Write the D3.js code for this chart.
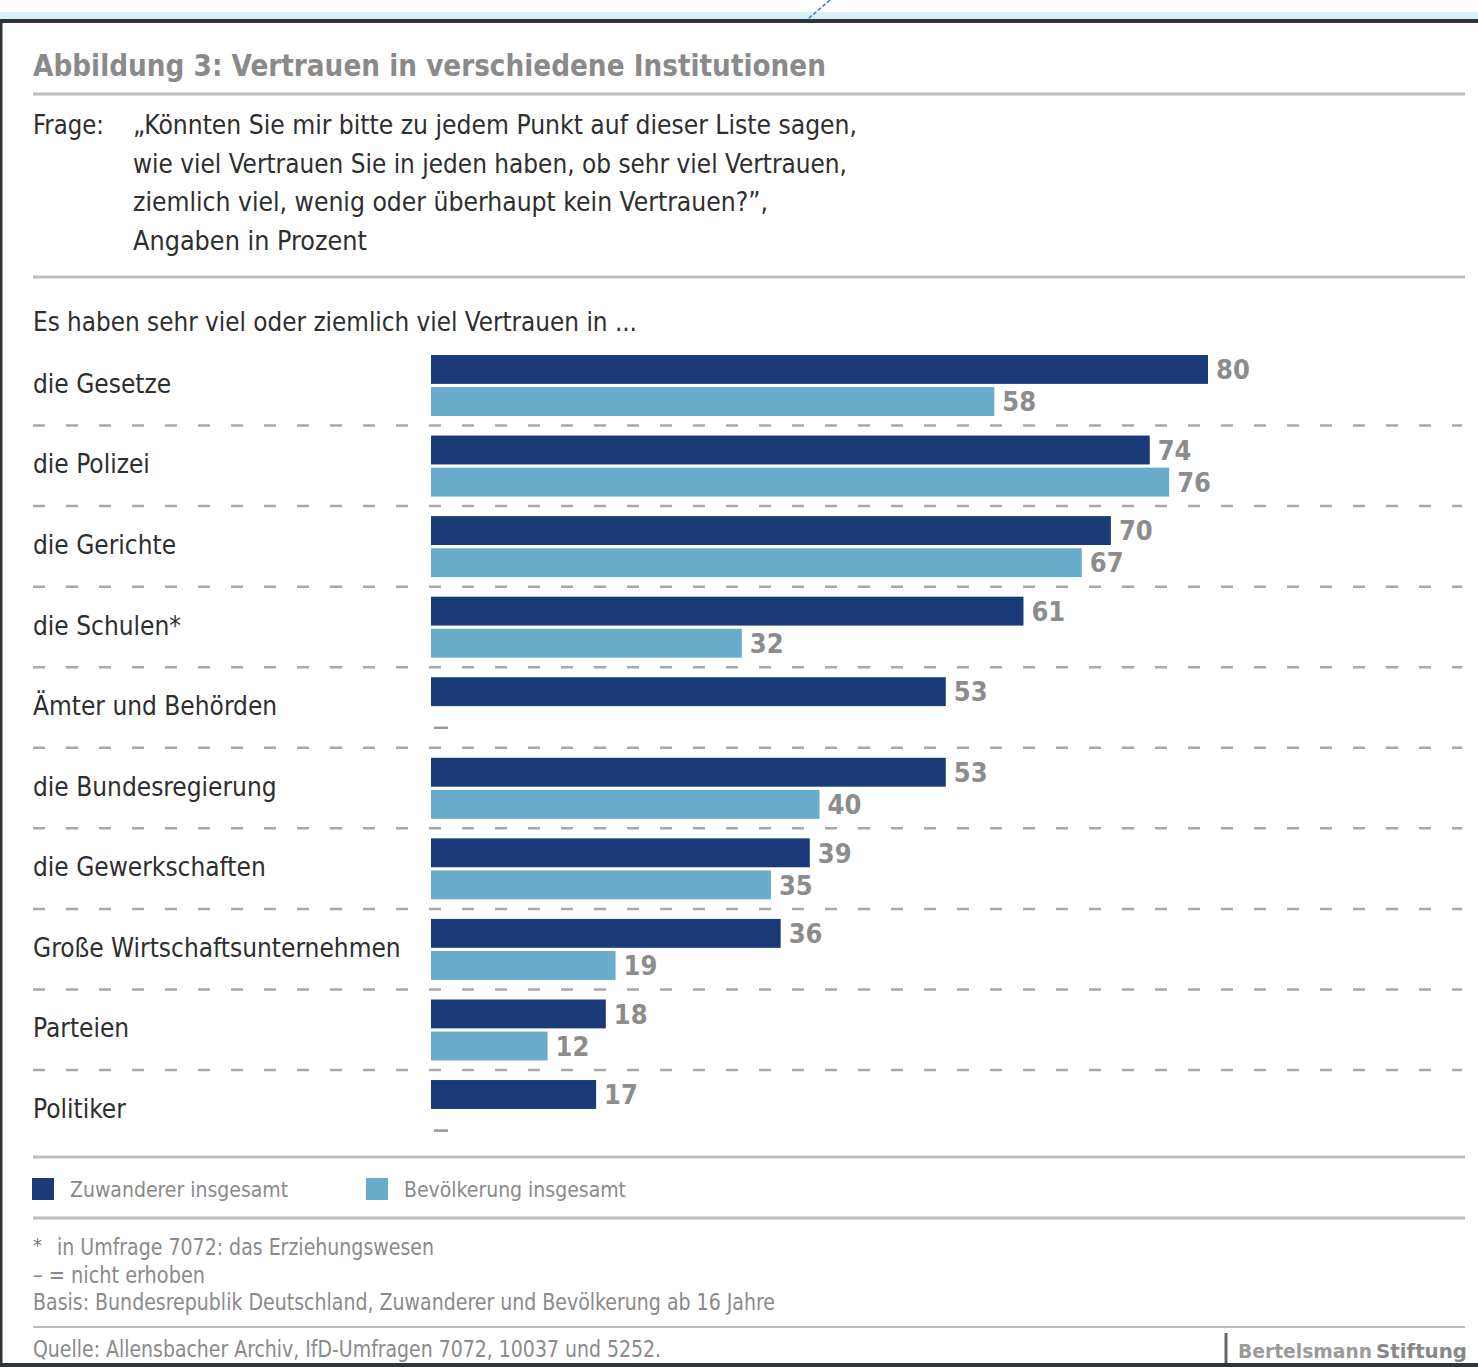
<!DOCTYPE html>
<html>
<head>
<meta charset="utf-8">
<script src="https://cdn.jsdelivr.net/npm/d3@7"></script>
<style>
  body { margin: 0; background: #fff; }
  svg { display: block; }
</style>
</head>
<body>
<div id="chart"></div>
<script>
// data
const categories = ["die Gesetze", "die Polizei", "die Gerichte", "die Schulen*", "Ämter und Behörden",
    "die Bundesregierung", "die Gewerkschaften", "Große Wirtschaftsunternehmen", "Parteien", "Politiker"];
const zuwanderer = [80, 74, 70, 61, 53, 53, 39, 36, 18, 17];
const bevoelkerung = [58, 76, 67, 32, null, 40, 35, 19, 12, null];
const seriesNames = ["Zuwanderer insgesamt", "Bevölkerung insgesamt"];
const questionLines = [
    "„Könnten Sie mir bitte zu jedem Punkt auf dieser Liste sagen,",
    "wie viel Vertrauen Sie in jeden haben, ob sehr viel Vertrauen,",
    "ziemlich viel, wenig oder überhaupt kein Vertrauen?”,",
    "Angaben in Prozent"
];
const footnotes = [
    "in Umfrage 7072: das Erziehungswesen",
    "– = nicht erhoben",
    "Basis: Bundesrepublik Deutschland, Zuwanderer und Bevölkerung ab 16 Jahre"
];

const W = 1478, H = 1367;
const FONT = "'Liberation Sans Narrow', 'DejaVu Sans Condensed', 'Arial Narrow', sans-serif";
const colors = d3.scaleOrdinal().domain(seriesNames).range(["#1b3a78", "#69abcb"]);

let svg = d3.select("#chart").append("svg")
    .attr("width", W)
    .attr("height", H)
    .style("font-family", FONT);

function fit(sel, w) {
    sel.attr("textLength", w).attr("lengthAdjust", "spacingAndGlyphs");
    return sel;
}

// frame bits
svg.append("rect").attr("x", 0).attr("y", 12).attr("width", W).attr("height", 7).attr("fill", "#dcf0f6");
svg.append("line").attr("x1", 0).attr("x2", W).attr("y1", 21).attr("y2", 21)
    .attr("stroke", "#2f3436").attr("stroke-width", 4);
svg.append("line").attr("x1", 1).attr("x2", 1).attr("y1", 21).attr("y2", H)
    .attr("stroke", "#2f3436").attr("stroke-width", 3);
svg.append("line").attr("x1", 0).attr("x2", W).attr("y1", 1365).attr("y2", 1365)
    .attr("stroke", "#2f3436").attr("stroke-width", 4);
svg.append("line").attr("x1", 830).attr("y1", 0).attr("x2", 808).attr("y2", 19)
    .attr("stroke", "#3f72c4").attr("stroke-width", 1.5).attr("stroke-dasharray", "4,2");

// title + question
fit(svg.append("text").attr("x", 33).attr("y", 76)
    .attr("fill", "#8a8a8a").attr("font-size", 31).attr("font-weight", "bold")
    .text("Abbildung 3: Vertrauen in verschiedene Institutionen"), 793);

function rule(y, w) {
    svg.append("line").attr("x1", 33).attr("x2", 1465).attr("y1", y).attr("y2", y)
        .attr("stroke", "#bdbdbd").attr("stroke-width", w);
}
rule(94, 3);

fit(svg.append("text").attr("x", 33).attr("y", 134).attr("fill", "#2e2e2e").attr("font-size", 27)
    .text("Frage:"), 71);
const qWidths = [724, 714, 635, 234];
svg.selectAll(".q").data(questionLines).enter().append("text")
    .attr("class", "q")
    .attr("x", 133)
    .attr("y", (d, i) => 134 + i * 38.5)
    .attr("fill", "#2e2e2e").attr("font-size", 27)
    .text(d => d)
    .each(function(d, i) { fit(d3.select(this), qWidths[i]); });

rule(277, 3);

fit(svg.append("text").attr("x", 33).attr("y", 331).attr("fill", "#2e2e2e").attr("font-size", 27)
    .text("Es haben sehr viel oder ziemlich viel Vertrauen in ..."), 604);

// scales
let x = d3.scaleLinear().domain([0, 80]).range([431, 1208]);
let y = d3.scaleBand().domain(categories).range([345, 345 + 80.56 * 10]);
let sub = d3.scaleBand().domain(seriesNames).range([10, 71]).paddingInner(0.1);

const rows = categories.map((c, i) => ({cat: c, vals: [zuwanderer[i], bevoelkerung[i]]}));

// dashed separators
svg.selectAll(".sep").data(categories.slice(1)).enter().append("line")
    .attr("class", "sep")
    .attr("x1", 33).attr("x2", 1462)
    .attr("y1", d => y(d)).attr("y2", d => y(d))
    .attr("stroke", "#a8a8a8").attr("stroke-width", 2.5)
    .attr("stroke-dasharray", "12,21");

let g = svg.selectAll(".row").data(rows).enter().append("g")
    .attr("class", "row")
    .attr("transform", d => `translate(0, ${y(d.cat)})`);

g.append("text")
    .attr("x", 33)
    .attr("y", (sub.range()[0] + sub.range()[1]) / 2 - 2)
    .attr("dy", "0.36em")
    .attr("fill", "#2e2e2e")
    .attr("font-size", 26)
    .text(d => d.cat);

let cells = g.selectAll(".cell")
    .data(d => d.vals.map((v, k) => ({v: v, s: seriesNames[k]})))
    .enter().append("g").attr("class", "cell");

cells.filter(d => d.v !== null).append("rect")
    .attr("x", x(0))
    .attr("y", d => sub(d.s))
    .attr("width", d => x(d.v) - x(0))
    .attr("height", sub.bandwidth())
    .attr("fill", d => colors(d.s));

cells.filter(d => d.v !== null).append("text")
    .attr("x", d => x(d.v) + 8)
    .attr("y", d => sub(d.s) + sub.bandwidth() / 2)
    .attr("dy", "0.36em")
    .attr("fill", "#8c8c8c")
    .attr("font-size", 27)
    .attr("font-weight", "bold")
    .text(d => d.v);

// not surveyed marker
cells.filter(d => d.v === null).append("line")
    .attr("x1", x(0) + 3).attr("x2", x(0) + 17)
    .attr("y1", d => sub(d.s) + sub.bandwidth() / 2 + 4)
    .attr("y2", d => sub(d.s) + sub.bandwidth() / 2 + 4)
    .attr("stroke", "#999").attr("stroke-width", 2.5);

rule(1157, 3);

// legend
const legX = [32, 366];
let leg = svg.selectAll(".leg").data(seriesNames).enter().append("g")
    .attr("class", "leg")
    .attr("transform", (d, i) => `translate(${legX[i]}, 1178)`);
leg.append("rect").attr("width", 22).attr("height", 22).attr("fill", d => colors(d));
leg.append("text").attr("x", 38).attr("y", 11).attr("dy", "0.36em")
    .attr("fill", "#8a8a8a").attr("font-size", 21)
    .text(d => d);

rule(1218, 3);

// footnotes
svg.append("text").attr("x", 33).attr("y", 1252).attr("fill", "#777").attr("font-size", 20).text("*");
const fnX = [57, 33, 33];
const fnW = [377, 172, 742];
svg.selectAll(".fn").data(footnotes).enter().append("text")
    .attr("class", "fn")
    .attr("x", (d, i) => fnX[i])
    .attr("y", (d, i) => 1255 + i * 27.5)
    .attr("fill", "#8a8a8a").attr("font-size", 23)
    .text(d => d)
    .each(function(d, i) { fit(d3.select(this), fnW[i]); });

rule(1327, 2);

fit(svg.append("text").attr("x", 33).attr("y", 1357).attr("fill", "#8a8a8a").attr("font-size", 23)
    .text("Quelle: Allensbacher Archiv, IfD-Umfragen 7072, 10037 und 5252."), 628);

// logo
svg.append("line").attr("x1", 1226).attr("x2", 1226).attr("y1", 1333).attr("y2", 1363)
    .attr("stroke", "#666").attr("stroke-width", 3);
fit(svg.append("text").attr("x", 1238).attr("y", 1358)
    .attr("font-family", "'DejaVu Sans', sans-serif").attr("font-size", 20).attr("font-weight", "bold")
    .attr("fill", "#9a9a9a").text("Bertelsmann"), 134);
fit(svg.append("text").attr("x", 1376).attr("y", 1358)
    .attr("font-family", "'DejaVu Sans', sans-serif").attr("font-size", 20).attr("font-weight", "bold")
    .attr("fill", "#888").text("Stiftung"), 91);
</script>
</body>
</html>
